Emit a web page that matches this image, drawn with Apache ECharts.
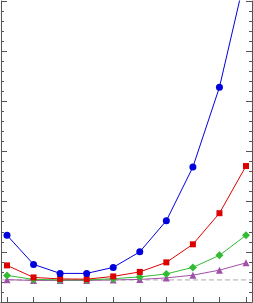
<!DOCTYPE html>
<html><head><meta charset="utf-8">
<script src="https://cdn.jsdelivr.net/npm/echarts@6/dist/echarts.min.js"></script>
<style>html,body{margin:0;padding:0;background:#fff}#c{width:253px;height:303px}</style>
</head><body><div id="c"></div>
<script>
const xValues = [1,2,3,4,5,6,7,8,9,10];
const blueValues = [1.33,0.75,0.57,0.57,0.69,1.0,1.62,2.69,4.28,6.56];
const redValues = [0.73,0.49,0.46,0.455,0.51,0.6,0.79,1.15,1.77,2.71];
const greenValues = [0.53,0.45,0.44,0.44,0.465,0.5,0.56,0.69,0.93,1.33];
const purpleValues = [0.445,0.43,0.43,0.43,0.44,0.45,0.48,0.535,0.635,0.78];
const baselineValue = 0.44;
const yTicks = [0,1,2,3,4,5,6];

const chart = echarts.init(document.getElementById('c'));
const pair = v => xValues.map((x,i)=>[x,v[i]]);
const axisCol = '#555';
function xAx(pos){return {type:'value',position:pos,min:0.774,max:10.226,
  axisLine:{show:true,lineStyle:{color:axisCol,width:1}},
  axisTick:{show:true,inside:true,length:5,customValues:xValues,lineStyle:{color:axisCol}},
  axisLabel:{show:false},splitLine:{show:false}};}
function yAx(pos){return {type:'value',position:pos,min:yTicks[0],max:yTicks[yTicks.length-1],interval:1,
  axisLine:{show:true,lineStyle:{color:axisCol,width:1}},
  axisTick:{show:true,inside:true,length:6,lineStyle:{color:axisCol}},
  minorTick:{show:true,splitNumber:5,length:3,lineStyle:{color:axisCol}},
  axisLabel:{show:false},splitLine:{show:false}};}
function ser(name,data,color,symbol,size){return {name,type:'line',data:pair(data),symbol,symbolSize:size,
  lineStyle:{color,width:1},itemStyle:{color},animation:false,clip:true};}
chart.setOption({
  animation:false,
  grid:{left:1,right:1,top:1,bottom:1},
  xAxis:[xAx('bottom'),xAx('top')],
  yAxis:[yAx('left'),yAx('right')],
  series:[
    {type:'line',data:[[0.774,baselineValue],[10.226,baselineValue]],symbol:'none',
     lineStyle:{color:'#aaa',width:1,type:[5,3]},z:1},
    ser('purple',purpleValues,'#a050a8','triangle',7),
    ser('green',greenValues,'#33bb33','diamond',8),
    ser('red',redValues,'#dd0000','rect',6),
    ser('blue',blueValues,'#0000dd','circle',7)
  ]
});
</script></body></html>
